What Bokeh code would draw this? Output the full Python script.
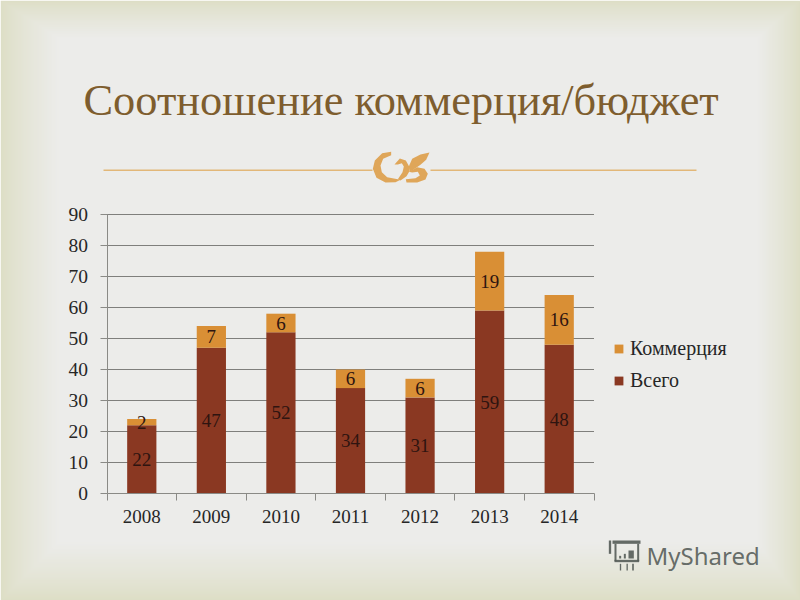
from bokeh.plotting import figure
from bokeh.models import (ColumnDataSource, LabelSet, Legend, LegendItem, Label, BoxAnnotation,
                          PolyAnnotation, FixedTicker, Range1d, LinearAxis)
from bokeh.embed import file_html
from bokeh.resources import INLINE

years = ["2008", "2009", "2010", "2011", "2012", "2013", "2014"]
vsego = [22, 47, 52, 34, 31, 59, 48]
kommertsiya = [2, 7, 6, 6, 6, 19, 16]
y_ticks = [0, 10, 20, 30, 40, 50, 60, 70, 80, 90]
title_text = "Соотношение коммерция/бюджет"
series_names = ["Коммерция", "Всего"]

W, H = 800, 600
SERIF = "Liberation Serif"
# plot area inside the page, in pixels
PL, PR, PT, PB = 106.5, 593.5, 214, 493
n = len(years)
ux = (PR - PL) / n
uy = (PB - PT) / y_ticks[-1]

p = figure(width=W, height=H, output_backend="svg", toolbar_location=None,
           x_range=Range1d(-PL / ux, (W - PL) / ux), y_range=Range1d(-(H - PB) / uy, PB / uy),
           x_axis_type=None, y_axis_type=None,
           min_border_left=0, min_border_right=0, min_border_top=0, min_border_bottom=0)
p.background_fill_color = None
p.border_fill_color = "#DCDDC3"
p.outline_line_color = None

def box(l, r, t, b, color, alpha=1, level="annotation"):
    p.add_layout(BoxAnnotation(left=l, right=r, top=t, bottom=b,
                               left_units="canvas", right_units="canvas", top_units="canvas", bottom_units="canvas",
                               fill_color=color, fill_alpha=alpha, line_color=None, level=level))

def mix(a, b, t):
    return "#%02x%02x%02x" % tuple(round(a[i] + (b[i] - a[i]) * t) for i in range(3))
STEPS = 30
edge, centre = (220, 221, 195), (236, 236, 234)
for i in range(STEPS):
    t = ((i + 1) / STEPS) ** 0.8
    box(2 * i, W - 1.5 * i, 1.3 * i, H - 2 * i, mix(edge, centre, t), level="image")

xs = [i + 0.5 for i in range(n)]
tops = [a + b for a, b in zip(vsego, kommertsiya)]
src = ColumnDataSource(dict(x=xs, v=vsego, k=kommertsiya, top=tops,
                            vmid=[a / 2 for a in vsego],
                            kmid=[a + b / 2 for a, b in zip(vsego, kommertsiya)],
                            vt=[str(a) for a in vsego], kt=[str(b) for b in kommertsiya]))

GREY = "#8a8a86"
p.segment(x0=[0] * len(y_ticks[1:]), x1=[n] * len(y_ticks[1:]), y0=y_ticks[1:], y1=y_ticks[1:],
          line_color="#7f7f7c", line_width=1)

xaxis = LinearAxis(ticker=FixedTicker(ticks=xs, minor_ticks=list(range(n + 1))),
                   major_label_overrides={x: y for x, y in zip(xs, years)},
                   fixed_location=0, bounds=(0, n))
xaxis.major_tick_line_color = None
xaxis.minor_tick_in = 0
xaxis.minor_tick_out = 7
xaxis.minor_tick_line_color = GREY
xaxis.axis_line_color = GREY
xaxis.major_label_text_font = SERIF
xaxis.major_label_text_font_size = "19px"
xaxis.major_label_text_color = "#262626"
xaxis.major_label_standoff = 9
p.add_layout(xaxis, "below")

yaxis = LinearAxis(ticker=FixedTicker(ticks=y_ticks, minor_ticks=[]), fixed_location=0, bounds=(0, y_ticks[-1]))
yaxis.major_tick_in = 0
yaxis.major_tick_out = 7
yaxis.major_tick_line_color = GREY
yaxis.axis_line_color = GREY
yaxis.major_label_text_font = SERIF
yaxis.major_label_text_font_size = "19.5px"
yaxis.major_label_text_color = "#262626"
yaxis.major_label_standoff = 12
p.add_layout(yaxis, "left")

bw = 0.42
r_v = p.vbar(x="x", width=bw, bottom=0, top="v", source=src, fill_color="#8A3822", line_color=None)
r_k = p.vbar(x="x", width=bw, bottom="v", top="top", source=src, fill_color="#D98F35", line_color=None)

for col, text in (("vmid", "vt"), ("kmid", "kt")):
    p.add_layout(LabelSet(x="x", y=col, text=text, source=src, text_align="center", text_baseline="middle",
                          text_font=SERIF, text_font_size="19px", text_color="#2E1410"))

legend = Legend(items=[LegendItem(label=series_names[0], renderers=[r_k]),
                       LegendItem(label=series_names[1], renderers=[r_v])],
                location=(613, 208), orientation="vertical",
                background_fill_alpha=0, border_line_color=None,
                glyph_width=11, glyph_height=11, label_standoff=6,
                spacing=9, padding=10, margin=0, label_height=22,
                label_text_font=SERIF, label_text_font_size="20px", label_text_color="#262626")
p.add_layout(legend, "center")

# title
p.add_layout(Label(x=83, y=99, x_units="canvas", y_units="canvas", text=title_text, text_font=SERIF,
                   text_font_size="44.4px", text_color="#7E5D2E", text_baseline="middle"))

# ornament rule
RULE = "#E2B778"
for l, r in ((103, 372), (430, 696)):
    box(l, r, 169, 170.5, RULE)
ORN = "#DFA659"
def zx(v): return 340 + v / 3
def zy(v): return 130 + v / 3
shapes = [
    [(152, 64), (125, 68), (103, 90), (97, 115), (108, 142), (135, 156), (165, 155), (180, 148), (140, 140), (124, 125), (120, 105), (128, 85), (152, 74)],
    [(162, 102), (178, 84), (196, 90), (206, 108), (206, 124), (198, 137), (180, 150), (172, 146), (186, 125), (190, 108), (184, 98), (172, 102)],
    [(205, 108), (215, 85), (240, 72), (267, 66), (257, 88), (240, 103), (215, 120), (207, 124)],
    [(205, 124), (230, 110), (252, 115), (262, 130), (255, 147), (230, 156), (198, 156), (196, 146), (225, 143), (238, 135), (232, 124), (215, 126)],
]
for s in shapes:
    p.add_layout(PolyAnnotation(xs=[zx(a) for a, _ in s], ys=[zy(b) for _, b in s], xs_units="canvas", ys_units="canvas",
                                fill_color=ORN, fill_alpha=1, line_color=None))

# watermark
MARK = "#555C58"
p.add_layout(Label(x=646, y=555, x_units="canvas", y_units="canvas", text="MyShared", text_baseline="middle",
                   text_font="Noto Sans", text_font_size="24px", text_color=MARK, text_alpha=0.9))
def mx(v): return 590 + v / 3
def my(v): return 520 + v / 3
boxes = [(66, 60, 150, 70), (72, 70, 78, 122), (140, 70, 146, 122), (72, 118, 146, 125),
         (86, 106, 92, 114), (100, 100, 106, 114), (114, 90, 130, 114),
         (55, 60, 62, 100), (88, 130, 92, 150), (108, 130, 112, 150), (125, 130, 130, 150)]
for a, b, c, d in boxes:
    box(mx(a), mx(c), my(b), my(d), MARK, 0.9)

open("out.html", "w").write(file_html(p, INLINE))
